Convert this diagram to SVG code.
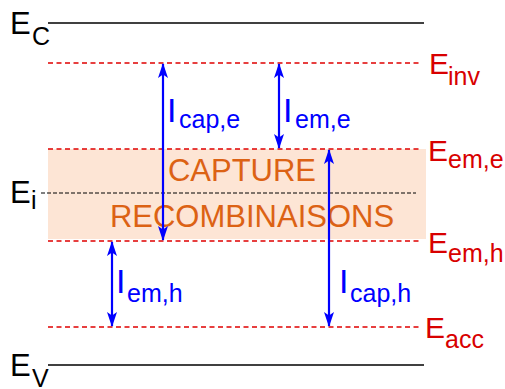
<svg xmlns="http://www.w3.org/2000/svg" width="505" height="389" viewBox="0 0 505 389">
<style>
text{font-family:"Liberation Sans",Arial,sans-serif}
.band{stroke:#000;stroke-width:1.5}
.lvl{stroke:#e00000;stroke-width:1.3;stroke-dasharray:5,3.5}
.mid{stroke:#000;stroke-width:1;stroke-dasharray:4,2}
.arr{stroke:#0000ff;stroke-width:2.2;marker-start:url(#ah);marker-end:url(#ah)}
.kE{font-size:31px;fill:#000}
.kS{font-size:25px;fill:#000}
.rE{font-size:30px;fill:#d80000}
.rS{font-size:25px;fill:#d80000}
.bI{font-size:34px;fill:#0000ff}
.bS{font-size:25px;fill:#0000ff}
.zone{font-size:31px;fill:#dc6214}
</style>
<defs>
<marker id="ah" viewBox="0 0 15 10" refX="14" refY="5" markerWidth="15" markerHeight="10" markerUnits="userSpaceOnUse" orient="auto-start-reverse">
<path d="M0,0 L15,5 L0,10 L3.5,5 z" fill="#0000ff"/>
</marker>
</defs>
<g id="zone">
<rect x="48" y="149" width="378" height="90" fill="#fde5d5"/>
<text class="zone" x="242" y="181" text-anchor="middle">CAPTURE</text>
<text class="zone" x="252" y="227" text-anchor="middle">RECOMBINAISONS</text>
</g>
<g id="EC">
<line class="band" x1="48" y1="23" x2="424" y2="23"/>
<text class="kE" x="10" y="34">E</text><text class="kS" x="32" y="45">C</text>
</g>
<g id="EV">
<line class="band" x1="48" y1="365" x2="424" y2="365"/>
<text class="kE" x="10" y="376">E</text><text class="kS" x="32" y="387">V</text>
</g>
<g id="Ei">
<line class="mid" x1="41" y1="193" x2="416" y2="193"/>
<text class="kE" x="10" y="203">E</text><text class="kS" x="31" y="209">i</text>
</g>
<g id="Einv">
<line class="lvl" x1="48" y1="63" x2="420" y2="63"/>
<text class="rE" x="429" y="74">E</text><text class="rS" x="448" y="85">inv</text>
</g>
<g id="Eeme">
<line class="lvl" x1="48" y1="149" x2="420" y2="149"/>
<text class="rE" x="428" y="161">E</text><text class="rS" x="448" y="168">em,e</text>
</g>
<g id="Eemh">
<line class="lvl" x1="48" y1="241" x2="420" y2="241"/>
<text class="rE" x="428" y="253">E</text><text class="rS" x="448" y="262">em,h</text>
</g>
<g id="Eacc">
<line class="lvl" x1="48" y1="327" x2="420" y2="327"/>
<text class="rE" x="425" y="338">E</text><text class="rS" x="445" y="348">acc</text>
</g>
<g id="connectors">
<line class="arr" x1="163" y1="64" x2="163" y2="240"/>
<line class="arr" x1="279" y1="64" x2="279" y2="148"/>
<line class="arr" x1="112" y1="242" x2="112" y2="326"/>
<line class="arr" x1="329" y1="150" x2="329" y2="326"/>
</g>
<g id="Icape"><text class="bI" x="167" y="122">I</text><text class="bS" x="179" y="128">cap,e</text></g>
<g id="Ieme"><text class="bI" x="283" y="122">I</text><text class="bS" x="295" y="128">em,e</text></g>
<g id="Iemh"><text class="bI" x="116" y="293">I</text><text class="bS" x="127" y="302">em,h</text></g>
<g id="Icaph"><text class="bI" x="339" y="293">I</text><text class="bS" x="350" y="302">cap,h</text></g>
</svg>
